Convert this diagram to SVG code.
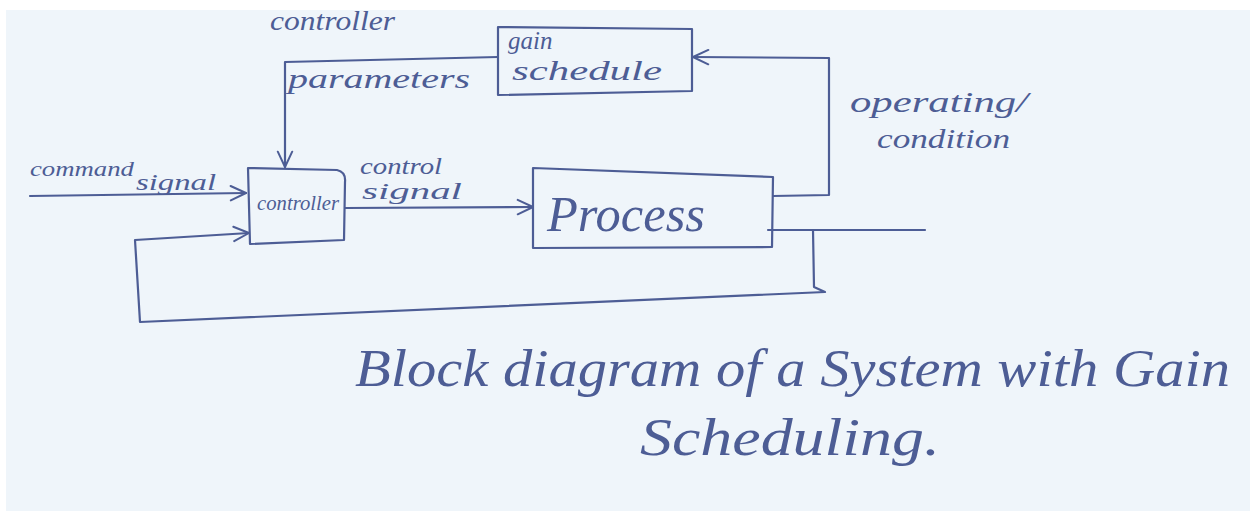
<svg xmlns="http://www.w3.org/2000/svg" width="1250" height="511" viewBox="0 0 1250 511">
<defs>
<style>
.ink{fill:none;stroke:#4d5d95;stroke-width:2.2;stroke-linejoin:round;stroke-linecap:round}
.t{fill:#4d5d95;font-family:"Liberation Serif","DejaVu Serif",serif;font-style:italic}
</style>
<marker id="ah" viewBox="0 0 20 20" refX="19" refY="10" markerWidth="18" markerHeight="18" markerUnits="userSpaceOnUse" orient="auto">
<path d="M2,2 L19,10 L2,18" fill="none" stroke="#4d5d95" stroke-width="2.2" stroke-linecap="round" stroke-linejoin="round"/>
</marker>
</defs>
<rect x="0" y="0" width="1250" height="511" fill="#eff5fa"/>
<rect x="0" y="0" width="1250" height="10" fill="#ffffff"/>
<rect x="0" y="0" width="6" height="511" fill="#ffffff"/>

<g id="connectors">
<path class="ink" d="M30,196 L246,193" marker-end="url(#ah)"/>
<path class="ink" d="M498,57 L285,62 L285,167" marker-end="url(#ah)"/>
<path class="ink" d="M345,208 L533,207" marker-end="url(#ah)"/>
<path class="ink" d="M773,196 L829,195 L829,58 L693,57" marker-end="url(#ah)"/>
<path class="ink" d="M768,230 L925,230"/>
<path class="ink" d="M813,230 L814,287 L825,292 L140,322 L135,240 L249,233" marker-end="url(#ah)"/>
</g>

<g id="controller">
<path class="ink" d="M248,168 L337,170 Q346,172 345,182 L344,240 L250,244 Z"/>
<text class="t" x="257" y="210" font-size="21" textLength="82" lengthAdjust="spacingAndGlyphs">controller</text>
</g>

<g id="gain-schedule">
<path class="ink" d="M498,27 L692,29 L692,91 L498,95 Z"/>
<text class="t" x="508" y="49" font-size="25">gain</text>
<text class="t" x="512" y="80" font-size="27" textLength="150" lengthAdjust="spacingAndGlyphs">schedule</text>
</g>

<g id="process">
<path class="ink" d="M533,168 L773,177 L772,247 L533,248 Z"/>
<text class="t" x="547" y="231" font-size="50" textLength="158" lengthAdjust="spacingAndGlyphs">Process</text>
</g>

<g id="labels">
<text class="t" x="270" y="30" font-size="28" textLength="125" lengthAdjust="spacingAndGlyphs">controller</text>
<text class="t" x="288" y="88" font-size="28" textLength="182" lengthAdjust="spacingAndGlyphs">parameters</text>
<text class="t" x="30" y="176" font-size="22" textLength="104" lengthAdjust="spacingAndGlyphs">command</text>
<text class="t" x="136" y="190" font-size="23" textLength="80" lengthAdjust="spacingAndGlyphs">signal</text>
<text class="t" x="360" y="174" font-size="24" textLength="82" lengthAdjust="spacingAndGlyphs">control</text>
<text class="t" x="362" y="199" font-size="24" textLength="100" lengthAdjust="spacingAndGlyphs">signal</text>
<text class="t" x="850" y="112" font-size="30" textLength="178" lengthAdjust="spacingAndGlyphs">operating/</text>
<text class="t" x="877" y="148" font-size="28" textLength="133" lengthAdjust="spacingAndGlyphs">condition</text>
<text class="t" x="355" y="386" font-size="52" textLength="875" lengthAdjust="spacingAndGlyphs">Block  diagram of a System with Gain</text>
<text class="t" x="640" y="455" font-size="52" textLength="300" lengthAdjust="spacingAndGlyphs">Scheduling.</text>
</g>
</svg>
